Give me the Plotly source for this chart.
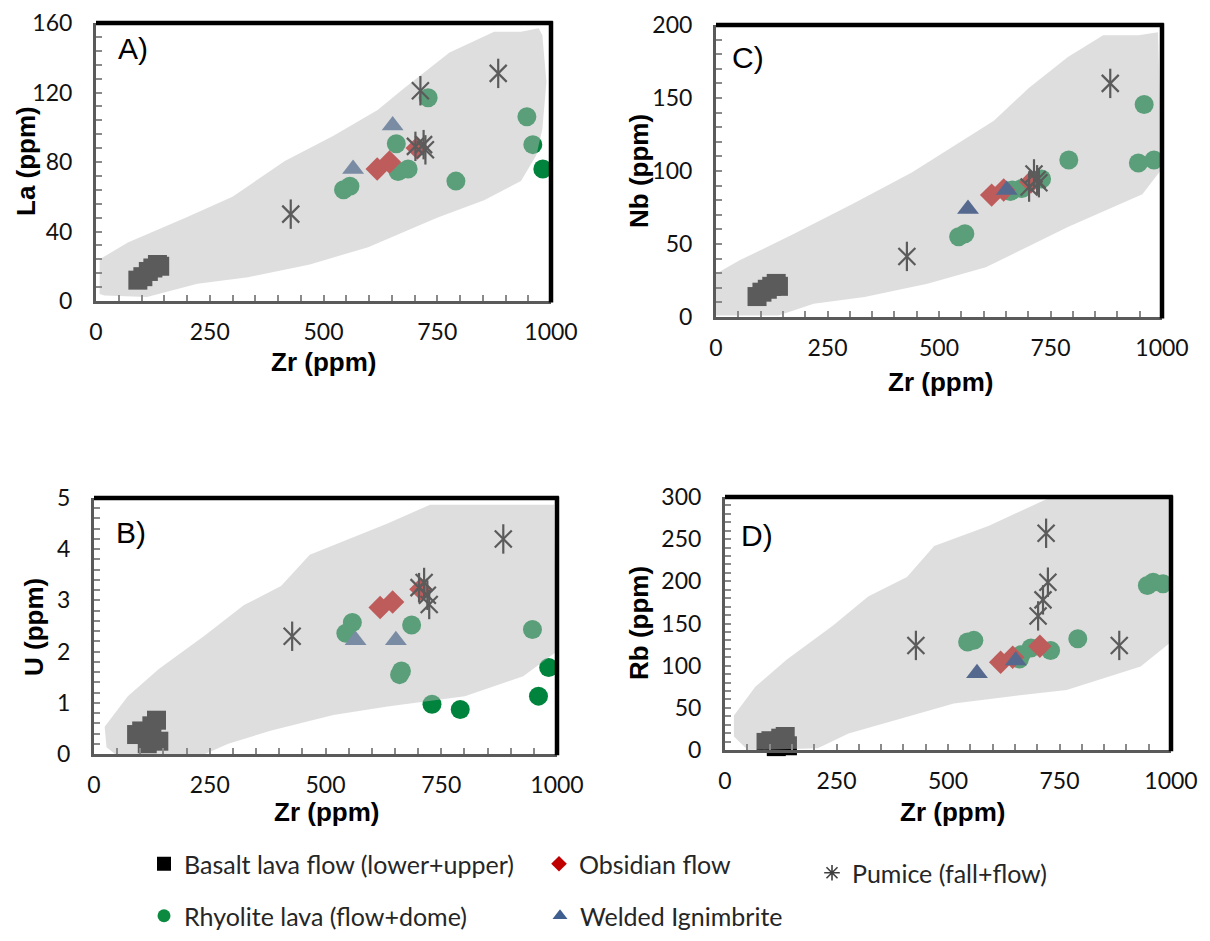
import plotly.graph_objects as go

# ------------------------------------------------------------------ data
ZR_BASALT = [92, 103, 115, 125, 135, 140]
ZR_RHYOLITE = [544, 558, 660, 664, 686, 730, 791, 947, 960, 982]
ZR_OBSIDIAN = [618, 645, 706]
ZR_PUMICE = [428, 702, 713, 720, 724, 884]
ZR_WELDED = [565, 652]

# Panel A: La
LA_BASALT = [12, 14, 17, 19, 21, 20]
LA_RHYOLITE = [64, 66, 90.5, 74.5, 76, 117, 69, 106, 90, 76]
LA_OBSIDIAN = [76, 80, 88]
LA_PUMICE = [50, 89, 121, 90, 87, 131]
LA_WELDED = [76, 101]

# Panel C: Nb
NB_BASALT = [14, 17, 19, 21, 23, 21]
NB_RHYOLITE = [55, 57, 86, 87, 88, 94.5, 107.5, 105.5, 145.5, 107.5]
NB_OBSIDIAN = [83.5, 87, 92.5]
NB_PUMICE = [41.5, 89, 98, 94, 92, 160]
NB_WELDED = [74, 87]

# Panel B: U
U_BASALT = [0.38, 0.45, 0.2, 0.55, 0.66, 0.25]
U_RHYOLITE = [2.36, 2.57, 1.55, 1.62, 2.52, 0.97, 0.87, 2.43, 1.13, 1.69]
U_OBSIDIAN = [2.86, 2.97, 3.22]
U_PUMICE = [2.3, 3.25, 3.35, 3.1, 2.92, 4.2]
U_WELDED = [2.22, 2.22]

# Panel D: Rb
RB_BASALT = [9, 11, 4, 14, 16, 5]
RB_RHYOLITE = [128, 130, 108, 113, 121, 118, 132, 195, 199, 197]
RB_OBSIDIAN = [104, 110, 123]
RB_PUMICE = [124, 159, 178, 257, 199, 124]
RB_WELDED = [91, 106]

# Grey compositional fields (outline, Zr vs element)
FIELD_A_ZR = [8, 70, 198, 300, 415, 521, 619, 675, 777, 875, 934, 973, 981, 990, 981, 968,
              934, 853, 751, 598, 470, 334, 223, 112, 19, 8]
FIELD_A_LA = [24, 33.6, 48, 60, 80.6, 95, 110, 122, 143, 155, 155, 157, 153, 126, 99, 84,
              69, 58, 48, 31, 21, 13.7, 10, 2.3, 3.2, 4]
FIELD_C_ZR = [0, 53, 175, 307, 439, 623, 702, 789, 868, 947, 991, 1000, 956, 789, 605, 474,
              333, 219, 140, 0]
FIELD_C_NB = [29.6, 38.8, 57, 77.5, 99, 134.5, 157, 178, 193, 193, 195, 101.5, 84, 61.6, 34,
              22.8, 13.7, 9, 1, 1]
FIELD_B_ZR = [23, 73, 140, 240, 324, 404, 466, 550, 634, 726, 994, 998, 927, 801, 634, 517,
              383, 290, 207, 64, 27]
FIELD_B_U = [0.53, 1.13, 1.66, 2.32, 2.91, 3.28, 3.89, 4.2, 4.5, 4.87, 4.87, 1.99, 1.52, 1.13,
             0.93, 0.76, 0.46, 0.2, -0.13, -0.13, 0.13]
FIELD_D_ZR = [20, 68, 138, 243, 321, 408, 469, 592, 723, 1000, 1000, 932, 766, 661, 513, 382,
              277, 208, 51, 20]
FIELD_D_RB = [41, 75, 107, 148, 182, 205, 242, 266, 298, 298, 128, 99, 71, 65, 55, 35.5,
              19.7, 2, 0, 16]

LEGEND_LABELS = ["Basalt lava flow (lower+upper)", "Obsidian flow", "Pumice (fall+flow)",
                 "Rhyolite lava (flow+dome)", "Welded Ignimbrite"]

# ------------------------------------------------------------------ style
W, H = 1210, 941
OFF = 8  # page body margin in the browser


def fx_(px):
    return (px - OFF) / W


def fy_(py):
    return 1 - (py - OFF) / H


C_BASALT = "#000000"
C_RHYO = "#00843d"
C_OBS = "#c00000"
C_WELD = "#3e5f8f"
C_WELD_TOP = "#55698f"
C_PUM = "#000000"
FIELD_FILL = "rgba(187,187,187,0.486)"
TICK_FONT = dict(family="Lato", size=23, color="#111111")
TITLE_FONT = dict(family="Liberation Sans", size=26, color="#000000")
LETTER_FONT = dict(family="Liberation Sans", size=30, color="#000000")
LEG_FONT = dict(family="Lato", size=25, color="#262626")

panels = [
    dict(ax="", letter="A)", xd=(96, 551), yd=(23, 301), yr=[0, 160], dt=40, mdt=8,
         ytitle="La (ppm)",
         data=(LA_BASALT, LA_RHYOLITE, LA_OBSIDIAN, LA_PUMICE, LA_WELDED),
         field=(FIELD_A_ZR, FIELD_A_LA), weld_top=False,
         let_xy=(133, 48), yt_xy=(26, 161), xt_xy=(323, 362)),
    dict(ax="2", letter="C)", xd=(716, 1162), yd=(25, 317), yr=[0, 200], dt=50, mdt=10,
         ytitle="Nb (ppm)",
         data=(NB_BASALT, NB_RHYOLITE, NB_OBSIDIAN, NB_PUMICE, NB_WELDED),
         field=(FIELD_C_ZR, FIELD_C_NB), weld_top=True,
         let_xy=(748, 57), yt_xy=(639, 171), xt_xy=(940, 382)),
    dict(ax="3", letter="B)", xd=(94, 557), yd=(498, 754), yr=[0, 5], dt=1, mdt=0.2,
         ytitle="U (ppm)",
         data=(U_BASALT, U_RHYOLITE, U_OBSIDIAN, U_PUMICE, U_WELDED),
         field=(FIELD_B_ZR, FIELD_B_U), weld_top=False,
         let_xy=(131, 532), yt_xy=(34, 627), xt_xy=(326, 812)),
    dict(ax="4", letter="D)", xd=(725, 1171), yd=(497, 750), yr=[0, 300], dt=50, mdt=10,
         ytitle="Rb (ppm)",
         data=(RB_BASALT, RB_RHYOLITE, RB_OBSIDIAN, RB_PUMICE, RB_WELDED),
         field=(FIELD_D_ZR, FIELD_D_RB), weld_top=True,
         let_xy=(757, 535), yt_xy=(639, 623), xt_xy=(952, 812)),
]

fig = go.Figure()
annotations = []
shapes = []

for p in panels:
    xa, ya = "x" + p["ax"], "y" + p["ax"]
    basalt, rhyo, obs, pum, weld = p["data"]
    common = dict(xaxis=xa, yaxis=ya, showlegend=False, hoverinfo="skip")
    fig.add_trace(go.Scatter(x=ZR_BASALT, y=basalt, mode="markers", cliponaxis=False,
                             marker=dict(symbol="square", size=19, color=C_BASALT), **common))
    fig.add_trace(go.Scatter(x=ZR_RHYOLITE, y=rhyo, mode="markers",
                             marker=dict(symbol="circle", size=19, color=C_RHYO), **common))
    fig.add_trace(go.Scatter(x=ZR_OBSIDIAN, y=obs, mode="markers",
                             marker=dict(symbol="diamond", size=18, color=C_OBS), **common))
    if not p["weld_top"]:
        fig.add_trace(go.Scatter(x=ZR_WELDED, y=weld, mode="markers",
                                 marker=dict(symbol="triangle-up", size=19, color=C_WELD), **common))
    fig.add_trace(go.Scatter(x=ZR_PUMICE, y=pum, mode="markers",
                             marker=dict(symbol="x-thin-open", size=17, color=C_PUM,
                                         line=dict(color=C_PUM, width=2.2)), **common))
    fig.add_trace(go.Scatter(x=ZR_PUMICE, y=pum, mode="markers",
                             marker=dict(symbol="line-ns-open", size=21, color=C_PUM,
                                         line=dict(color=C_PUM, width=2.2)), **common))
    fx, fy = p["field"]
    fig.add_trace(go.Scatter(x=fx, y=fy, mode="lines", fill="toself", fillcolor=FIELD_FILL,
                             line=dict(width=0), **common))
    if p["weld_top"]:
        fig.add_trace(go.Scatter(x=ZR_WELDED, y=weld, mode="markers",
                                 marker=dict(symbol="triangle-up", size=19, color=C_WELD_TOP),
                                 **common))

    key = p["ax"]
    x0, x1 = p["xd"]
    yt, yb = p["yd"]
    fig.layout["xaxis" + key] = dict(
        domain=[fx_(x0), fx_(x1)], anchor=ya, range=[0, 1000], dtick=250, tick0=0,
        ticks="inside", ticklen=6, tickwidth=1.5, tickcolor="#8a8a8a",
        minor=dict(dtick=50, ticks="inside", ticklen=6, tickwidth=1.5, tickcolor="#8a8a8a"),
        showline=True, linecolor="#5a5a5a", linewidth=3, showgrid=False, zeroline=False,
        tickfont=TICK_FONT, ticklabelstandoff=8, ticklabeloverflow="allow",
        automargin=False, fixedrange=True)
    fig.layout["yaxis" + key] = dict(
        domain=[fy_(yb), fy_(yt)], anchor=xa, range=p["yr"], dtick=p["dt"], tick0=0,
        ticks="inside", ticklen=6, tickwidth=1.5, tickcolor="#8a8a8a",
        minor=dict(dtick=p["mdt"], ticks="inside", ticklen=6, tickwidth=1.5, tickcolor="#8a8a8a"),
        showline=True, linecolor="#5a5a5a", linewidth=3, showgrid=False, zeroline=False,
        tickfont=TICK_FONT, ticklabelstandoff=16, ticklabeloverflow="allow",
        automargin=False, fixedrange=True)

    shapes.append(dict(type="line", xref=xa + " domain", yref=ya + " domain",
                       x0=0, x1=1.004, y0=1, y1=1, line=dict(color="black", width=4.5)))
    shapes.append(dict(type="line", xref=xa + " domain", yref=ya + " domain",
                       x0=1, x1=1, y0=-0.005, y1=1.006, line=dict(color="black", width=4.5)))

    lx, ly = p["let_xy"]
    annotations.append(dict(text=p["letter"], x=fx_(lx), y=fy_(ly), xref="paper", yref="paper",
                            showarrow=False, font=LETTER_FONT, xanchor="center", yanchor="middle"))
    tx, ty = p["yt_xy"]
    annotations.append(dict(text="<b>" + p["ytitle"] + "</b>", x=fx_(tx), y=fy_(ty),
                            xref="paper", yref="paper", showarrow=False, textangle=-90,
                            font=TITLE_FONT, xanchor="center", yanchor="middle"))
    tx, ty = p["xt_xy"]
    annotations.append(dict(text="<b>Zr (ppm)</b>", x=fx_(tx), y=fy_(ty),
                            xref="paper", yref="paper", showarrow=False,
                            font=TITLE_FONT, xanchor="center", yanchor="middle"))

# ------------------------------------------------------------------ legend (one legend per entry)
leg_markers = [
    dict(symbol="square", size=14, color="#000000"),
    dict(symbol="diamond", size=12, color="#c00000"),
    dict(symbol="asterisk-open", size=13, color="#404040", line=dict(color="#404040", width=1.6)),
    dict(symbol="circle", size=13, color="#0b8a40"),
    dict(symbol="triangle-up", size=13, color="#3e5f8f"),
]
leg_pos = [(165, 864), (560, 864), (833, 873), (165, 916), (561, 916)]
for i, (lab, mk, (px, py)) in enumerate(zip(LEGEND_LABELS, leg_markers, leg_pos)):
    lname = "legend" if i == 0 else "legend%d" % (i + 1)
    fig.add_trace(go.Scatter(x=[None], y=[None], mode="markers", name=lab, marker=mk,
                             showlegend=True, legend=lname, xaxis="x", yaxis="y"))
    fig.layout[lname] = dict(x=fx_(px - 21), y=fy_(py), xanchor="left", yanchor="middle",
                             bgcolor="rgba(0,0,0,0)", borderwidth=0, font=LEG_FONT,
                             itemclick=False, itemdoubleclick=False)

fig.update_layout(width=W, height=H, margin=dict(l=0, r=0, t=0, b=0, autoexpand=False),
                  paper_bgcolor="white", plot_bgcolor="white",
                  annotations=annotations, shapes=shapes)

fig.write_html("out.html")
